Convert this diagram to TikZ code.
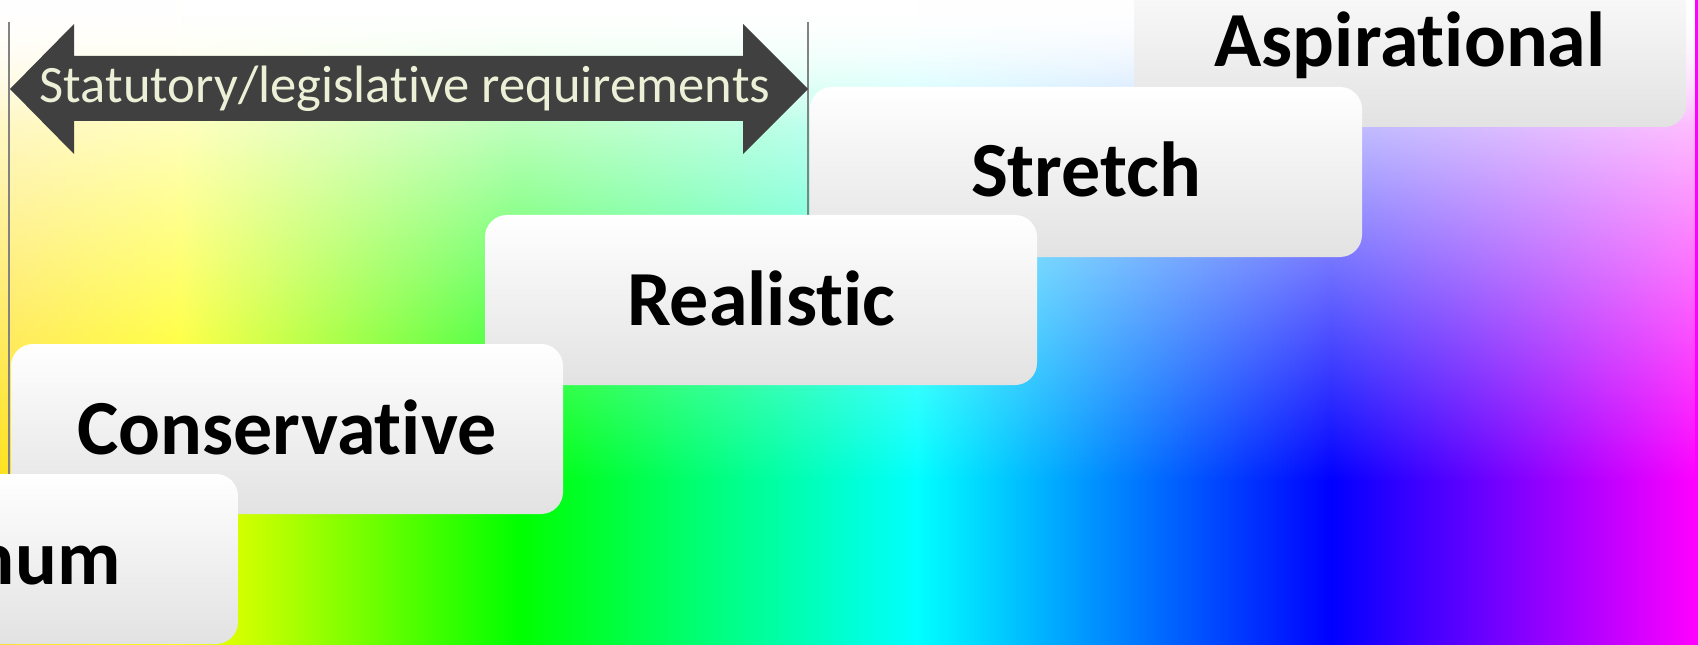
\documentclass[tikz,border=0pt]{standalone}
\usepackage{fontspec}
\setmainfont{Carlito}[Ligatures=NoCommon]
\usetikzlibrary{fadings}
\definecolor{arrowgray}{RGB}{64,64,64}
\definecolor{cream}{RGB}{236,240,214}
\definecolor{boxbot}{RGB}{226,226,226}
\definecolor{bgzero}{RGB}{255,226,30}
\definecolor{linegray}{RGB}{130,130,130}
\pgfdeclarehorizontalshading{rainbowbg}{100bp}{color(0bp)=(bgzero); color(25bp)=(bgzero); color(30.3bp)=(yellow); color(40.3bp)=(green); color(52bp)=(cyan); color(64.2bp)=(blue); color(75bp)=(magenta); color(100bp)=(magenta)}
\tikzfading[name=fadewhite, top color=transparent!0, bottom color=transparent!100]
\begin{document}
\begin{tikzpicture}[x=0.5pt,y=0.5pt,
  level/.style={rounded corners=11pt, top color=white, bottom color=boxbot,
    minimum width=276pt, minimum height=85pt, inner sep=0pt,
    text height=25pt, text depth=0pt,
    font=\fontsize{39}{39}\selectfont\bfseries, text=black},
  guide/.style={draw=linegray, line width=0.6pt}]
\useasboundingbox (0,0) rectangle (1698,644);
\clip (0,0) rectangle (1698,644);
% background
\fill[shading=rainbowbg] (0,0) rectangle (1698,644);
\fill[white, path fading=fadewhite] (0,164) rectangle (1698,644);
\fill[white, path fading=fadewhite] (0,520) rectangle (1698,644);
% guide lines
\coordinate (lt) at (9,622);
\coordinate (lb) at (9,170);
\coordinate (rt) at (808,622);
\coordinate (rb) at (808,429);
\draw[guide] (lt) -- (lb);
\draw[guide] (rt) -- (rb);
% double arrow
\fill[arrowgray] (10,555) -- (74,620) -- (74,588) -- (743,588) -- (743,620) -- (808,555)
  -- (743,490) -- (743,523) -- (74,523) -- (74,490) -- cycle;
\node[text=cream, font=\fontsize{26.3}{26.3}\selectfont] (stat) at (405,555) {Statutory/legislative requirements};
% levels
\node[level] (asp) at (1410,602) {Aspirational};
\node[level] (str) at (1086,472) {Stretch};
\node[level] (rea) at (761,344) {Realistic};
\node[level] (con) at (287,215) {Conservative};
\node[level] (min) at (-38,85) {Minimum};
\end{tikzpicture}
\end{document}
